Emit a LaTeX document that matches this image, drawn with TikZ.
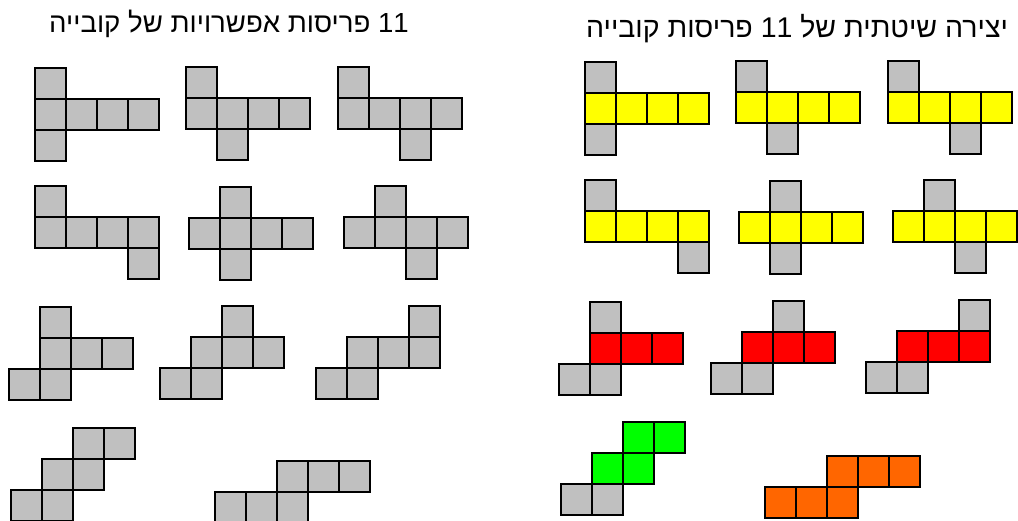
\documentclass[tikz,border=0pt]{standalone}
\usepackage{fontspec}
\setmainfont{Liberation Sans}
\newfontfamily\hebfont[Script=Hebrew]{Liberation Sans}
\TeXXeTstate=1
\definecolor{netgrey}{HTML}{C0C0C0}
\definecolor{netyellow}{HTML}{FFFF00}
\definecolor{netred}{HTML}{FF0000}
\definecolor{netgreen}{HTML}{00FF00}
\definecolor{netorange}{HTML}{FF6600}
\newcommand{\cubenet}[3]{%
  \begin{scope}[shift={(#1,#2)}]
    \foreach \i/\j/\c in {#3}
      \draw[sq,fill=\c] (\i*31,\j*31) rectangle ++(31,31);
  \end{scope}}

\begin{document}
\begin{tikzpicture}[
  x=1pt,y=-1pt,
  sq/.style={draw=black,line width=1.6pt,line join=miter},
  ttl/.style={font=\hebfont,inner sep=0pt,anchor=base}
]
\useasboundingbox (0,0) rectangle (1018,521);
\clip (0,0) rectangle (1018,521);

% titles
\node[ttl,font=\hebfont\fontsize{27.6}{32}\selectfont] (ttlleft) at (229,33) {\beginR \beginL 11\endL{} פריסות אפשרויות של קובייה\endR};
\node[ttl,font=\hebfont\fontsize{28.5}{33}\selectfont] (ttlright) at (797,38) {\beginR יצירה שיטתית של \beginL 11\endL{} פריסות קובייה\endR};

% left: the 11 nets
\cubenet{35}{68}{0/0/netgrey,0/1/netgrey,1/1/netgrey,2/1/netgrey,3/1/netgrey,0/2/netgrey}
\cubenet{186}{67}{0/0/netgrey,0/1/netgrey,1/1/netgrey,2/1/netgrey,3/1/netgrey,1/2/netgrey}
\cubenet{338}{67}{0/0/netgrey,0/1/netgrey,1/1/netgrey,2/1/netgrey,3/1/netgrey,2/2/netgrey}
\cubenet{35}{186}{0/0/netgrey,0/1/netgrey,1/1/netgrey,2/1/netgrey,3/1/netgrey,3/2/netgrey}
\cubenet{189}{187}{1/0/netgrey,0/1/netgrey,1/1/netgrey,2/1/netgrey,3/1/netgrey,1/2/netgrey}
\cubenet{344}{186}{1/0/netgrey,0/1/netgrey,1/1/netgrey,2/1/netgrey,3/1/netgrey,2/2/netgrey}
\cubenet{9}{307}{1/0/netgrey,1/1/netgrey,2/1/netgrey,3/1/netgrey,0/2/netgrey,1/2/netgrey}
\cubenet{160}{306}{2/0/netgrey,1/1/netgrey,2/1/netgrey,3/1/netgrey,0/2/netgrey,1/2/netgrey}
\cubenet{316}{306}{3/0/netgrey,1/1/netgrey,2/1/netgrey,3/1/netgrey,0/2/netgrey,1/2/netgrey}
\cubenet{11}{428}{2/0/netgrey,3/0/netgrey,1/1/netgrey,2/1/netgrey,0/2/netgrey,1/2/netgrey}
\cubenet{215}{461}{2/0/netgrey,3/0/netgrey,4/0/netgrey,0/1/netgrey,1/1/netgrey,2/1/netgrey}

% right: built row by row
\cubenet{585}{62}{0/0/netgrey,0/1/netyellow,1/1/netyellow,2/1/netyellow,3/1/netyellow,0/2/netgrey}
\cubenet{736}{61}{0/0/netgrey,0/1/netyellow,1/1/netyellow,2/1/netyellow,3/1/netyellow,1/2/netgrey}
\cubenet{888}{61}{0/0/netgrey,0/1/netyellow,1/1/netyellow,2/1/netyellow,3/1/netyellow,2/2/netgrey}
\cubenet{585}{180}{0/0/netgrey,0/1/netyellow,1/1/netyellow,2/1/netyellow,3/1/netyellow,3/2/netgrey}
\cubenet{739}{181}{1/0/netgrey,0/1/netyellow,1/1/netyellow,2/1/netyellow,3/1/netyellow,1/2/netgrey}
\cubenet{893}{180}{1/0/netgrey,0/1/netyellow,1/1/netyellow,2/1/netyellow,3/1/netyellow,2/2/netgrey}
\cubenet{559}{302}{1/0/netgrey,1/1/netred,2/1/netred,3/1/netred,0/2/netgrey,1/2/netgrey}
\cubenet{711}{301}{2/0/netgrey,1/1/netred,2/1/netred,3/1/netred,0/2/netgrey,1/2/netgrey}
\cubenet{866}{300}{3/0/netgrey,1/1/netred,2/1/netred,3/1/netred,0/2/netgrey,1/2/netgrey}
\cubenet{561}{422}{2/0/netgreen,3/0/netgreen,1/1/netgreen,2/1/netgreen,0/2/netgrey,1/2/netgrey}
\cubenet{765}{456}{2/0/netorange,3/0/netorange,4/0/netorange,0/1/netorange,1/1/netorange,2/1/netorange}
\end{tikzpicture}
\end{document}
